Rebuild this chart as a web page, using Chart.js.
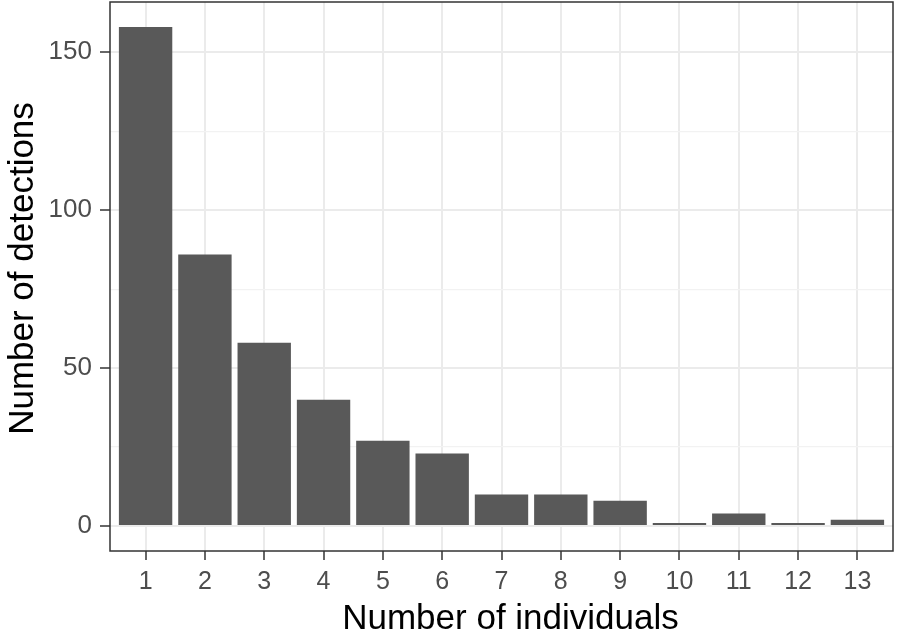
<!DOCTYPE html>
<html lang="en">
<head>
  <meta charset="UTF-8">
  <title>Number of detections</title>
  <script src="https://cdn.jsdelivr.net/npm/chart.js"></script>
  <style>
    html, body { margin: 0; padding: 0; background: #fff; }
  </style>
</head>
<body>
  <canvas id="chart" width="898" height="635"></canvas>

  <script>
    // data
    const individuals = [1, 2, 3, 4, 5, 6, 7, 8, 9, 10, 11, 12, 13];
    const detections = [158, 86, 58, 40, 27, 23, 10, 10, 8, 1, 4, 1, 2];
    const yMajorTicks = [0, 50, 100, 150];
    const yMinorTicks = [25, 75, 125];
    const xTitle = 'Number of individuals';
    const yTitle = 'Number of detections';

    const gridMajor = '#ebebeb';
    const gridMinor = '#f2f2f2';
    const titleFont = '35px "Liberation Sans"';

    // ggplot-style panel border plus the two axis titles
    const panelBorder = {
      id: 'panelBorder',
      afterDraw(chart) {
        const a = chart.chartArea;
        const c = chart.ctx;
        c.save();
        c.strokeStyle = '#333333';
        c.lineWidth = 1.5;
        c.strokeRect(a.left, a.top, a.right - a.left, a.bottom - a.top);

        c.fillStyle = '#000';
        c.font = titleFont;
        c.textAlign = 'center';
        c.textBaseline = 'alphabetic';
        c.fillText(xTitle, (a.left + a.right) / 2 + 9, 629);

        c.translate(33, (a.top + a.bottom) / 2 - 8);
        c.rotate(-Math.PI / 2);
        c.fillText(yTitle, 0, 0);
        c.restore();
      }
    };

    const isMajor = v => yMajorTicks.includes(v);

    new Chart(document.getElementById('chart'), {
      type: 'bar',
      data: {
        datasets: [{
          data: individuals.map((x, i) => ({ x: x, y: detections[i] })),
          backgroundColor: '#595959',
          borderWidth: 0,
          barPercentage: 0.9,
          categoryPercentage: 1.0
        }]
      },
      options: {
        responsive: false,
        animation: false,
        layout: { padding: { left: 0, top: 2, right: 5, bottom: 0 } },
        plugins: { legend: { display: false }, tooltip: { enabled: false } },
        scales: {
          x: {
            type: 'linear',
            offset: false,
            min: 0.4,
            max: 13.6,
            afterBuildTicks: s => { s.ticks = individuals.map(v => ({ value: v })); },
            afterFit: s => { s.height = 84; s.paddingLeft = 0; s.paddingRight = 0; },
            border: { display: false },
            grid: {
              offset: false,
              color: gridMajor,
              lineWidth: 2,
              tickColor: '#333333',
              tickWidth: 1.5,
              tickLength: 9
            },
            ticks: {
              autoSkip: false,
              maxRotation: 0,
              padding: 7,
              color: '#4d4d4d',
              font: { family: 'Liberation Sans', size: 25 }
            }
          },
          y: {
            min: -7.9,
            max: 165.9,
            afterBuildTicks: s => {
              s.ticks = yMajorTicks.concat(yMinorTicks).sort((a, b) => a - b).map(v => ({ value: v }));
            },
            afterFit: s => { s.width = 110; s.paddingTop = 0; s.paddingBottom = 0; },
            border: { display: false },
            grid: {
              color: c => isMajor(c.tick.value) ? gridMajor : gridMinor,
              lineWidth: c => isMajor(c.tick.value) ? 2 : 1.2,
              tickColor: c => isMajor(c.tick.value) ? '#333333' : 'rgba(0,0,0,0)',
              tickWidth: 1.5,
              tickLength: 10
            },
            ticks: {
              padding: 8,
              color: '#4d4d4d',
              font: { family: 'Liberation Sans', size: 26 },
              callback: v => isMajor(v) ? String(v) : ''
            }
          }
        }
      },
      plugins: [panelBorder]
    });
  </script>
</body>
</html>
